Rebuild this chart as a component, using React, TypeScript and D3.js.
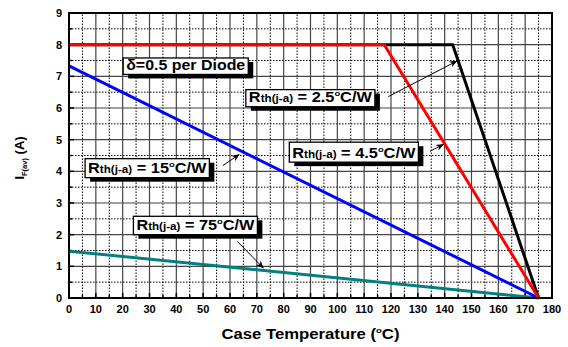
import * as d3 from "d3"

// derating curves, case temperature (°C) vs forward current (A)
const temp25 = [0, 143, 175]
const curr25 = [8, 8, 0]
const temp45 = [0, 117.5, 175]
const curr45 = [8, 8, 0]
const temp15 = [0, 175]
const curr15 = [7.33, 0]
const temp75 = [0, 175]
const curr75 = [1.48, 0]

const xTicks = d3.range(0, 181, 10)
const xMinor = d3.range(5, 180, 10)
const yTicks = d3.range(0, 10, 1)
const yMinor = d3.range(0.5, 9, 1)

// annotation boxes in data units: [left, right, top, bottom]
const rthLabels = ["2.5", "4.5", "15", "75"]
const rthBoxes = [
  [65.9, 114.0, 6.58, 6.04],
  [82.1, 130.2, 4.92, 4.29],
  [6.0, 52.3, 4.4, 3.8],
  [24.0, 70.2, 2.58, 2.0],
]
// arrows: [fromX, fromY, toX, toY]
const rthArrows = [
  [119.0, 6.36, 144.5, 7.48],
  [134.5, 4.63, 139.5, 4.85],
  [57.3, 4.18, 63.4, 4.53],
  [62.7, 1.79, 72.4, 0.95],
]
const dutyLabel = "δ=0.5 per Diode"
const dutyBox = [20.2, 66.8, 7.58, 7.06]

const width = 568
const height = 347
const margin = { top: 13, right: 16, bottom: 49, left: 69 }
const font = "Arial, 'Liberation Sans', Helvetica, sans-serif"

export default function App() {
  const x = d3.scaleLinear().domain([0, 180]).range([margin.left, width - margin.right])
  const y = d3.scaleLinear().domain([0, 9]).range([height - margin.bottom, margin.top])

  const line = (xs: number[], ys: number[]) =>
    d3
      .line<number>()
      .x((d) => x(xs[d]))
      .y((d) => y(ys[d]))(xs.map((_, i) => i)) as string

  const [x0, x1] = x.range()
  const [y0, y1] = y.range()

  const box = (b: number[], key: string, content: React.ReactNode) => {
    const l = x(b[0])
    const r = x(b[1])
    const t = y(b[2])
    const bt = y(b[3])
    return (
      <g key={key}>
        <rect x={l + 5} y={t + 4} width={r - l} height={bt - t} fill="#000" />
        <rect x={l} y={t} width={r - l} height={bt - t} fill="#fff" stroke="#000" strokeWidth={1.3} />
        <text
          x={l + 3}
          y={bt - 4.5}
          fontSize={14}
          fontWeight="bold"
          textLength={r - l - 6}
          lengthAdjust="spacingAndGlyphs"
        >
          {content}
        </text>
      </g>
    )
  }

  return (
    <svg
      width={width}
      height={height}
      style={{ position: "absolute", left: 0, top: 0, background: "#fff" }}
      fontFamily={font}
    >
      <defs>
        <marker id="arrow" viewBox="0 0 10 10" refX="9" refY="5" markerWidth="8" markerHeight="8" orient="auto">
          <path d="M0,1 L10,5 L0,9 L3,5 Z" fill="#000" />
        </marker>
      </defs>

      {/* minor grid */}
      <g stroke="#000" strokeWidth={1} strokeDasharray="1.5,1.5">
        {xMinor.map((v) => (
          <line key={"xm" + v} x1={x(v)} x2={x(v)} y1={y0} y2={y1} />
        ))}
        {yMinor.map((v) => (
          <line key={"ym" + v} x1={x0} x2={x1} y1={y(v)} y2={y(v)} />
        ))}
      </g>
      {/* major grid */}
      <g stroke="#444" strokeWidth={1.2}>
        {xTicks.map((v) => (
          <line key={"xg" + v} x1={x(v)} x2={x(v)} y1={y0} y2={y1} />
        ))}
        {yTicks.map((v) => (
          <line key={"yg" + v} x1={x0} x2={x1} y1={y(v)} y2={y(v)} />
        ))}
      </g>

      {/* ticks */}
      <g stroke="#000" strokeWidth={1.5}>
        {xTicks.map((v) => (
          <line key={"xt" + v} x1={x(v)} x2={x(v)} y1={y0} y2={y0 - 5} />
        ))}
        {xMinor.map((v) => (
          <line key={"xmt" + v} x1={x(v)} x2={x(v)} y1={y0} y2={y0 - 3} />
        ))}
        {yTicks.map((v) => (
          <line key={"yt" + v} x1={x0} x2={x0 + 5} y1={y(v)} y2={y(v)} />
        ))}
        {yMinor.map((v) => (
          <line key={"ymt" + v} x1={x0} x2={x0 + 3} y1={y(v)} y2={y(v)} />
        ))}
      </g>

      {/* curves */}
      <g fill="none" strokeWidth={3} strokeLinejoin="miter">
        <path d={line(temp75, curr75)} stroke="#008080" />
        <path d={line(temp15, curr15)} stroke="#0000ff" />
        <path d={line(temp25, curr25)} stroke="#000" />
        <path d={line(temp45, curr45)} stroke="#ff0000" />
      </g>

      {/* frame */}
      <rect x={x0} y={y1} width={x1 - x0} height={y0 - y1} fill="none" stroke="#000" strokeWidth={2} />

      {/* tick labels */}
      <g fontSize={11} fontWeight="bold" fill="#000">
        {xTicks.map((v) => (
          <text key={"xl" + v} x={x(v)} y={y0 + 15} textAnchor="middle">
            {v}
          </text>
        ))}
        {yTicks.map((v) => (
          <text key={"yl" + v} x={x0 - 7} y={y(v) + 4} textAnchor="end">
            {v}
          </text>
        ))}
      </g>

      {/* axis titles */}
      <text
        x={(x0 + x1) / 2}
        y={339}
        textAnchor="middle"
        fontSize={14}
        fontWeight="bold"
        textLength={178}
        lengthAdjust="spacingAndGlyphs"
      >
        Case Temperature (<tspan fontSize={8} dy={-6}>o</tspan>
        <tspan dy={6}>C)</tspan>
      </text>
      <text transform={`translate(23.5,158) rotate(-90)`} textAnchor="middle" fontSize={13} fontWeight="bold">
        I<tspan fontSize={7.5} dy={3}>F(av)</tspan>
        <tspan dy={-3}> (A)</tspan>
      </text>

      {/* arrows */}
      <g stroke="#000" strokeWidth={1}>
        {rthArrows.map((a, i) => (
          <line key={"ar" + i} x1={x(a[0])} y1={y(a[1])} x2={x(a[2])} y2={y(a[3])} markerEnd="url(#arrow)" />
        ))}
      </g>

      {/* labels */}
      {box(dutyBox, "duty", dutyLabel)}
      {rthLabels.map((lab, i) =>
        box(
          rthBoxes[i],
          "rth" + i,
          <>
            R<tspan fontSize={10}>th(j-a)</tspan>
            <tspan> = {lab}</tspan>
            <tspan fontSize={8} dy={-6}>o</tspan>
            <tspan dy={6}>C/W</tspan>
          </>,
        ),
      )}
    </svg>
  )
}
